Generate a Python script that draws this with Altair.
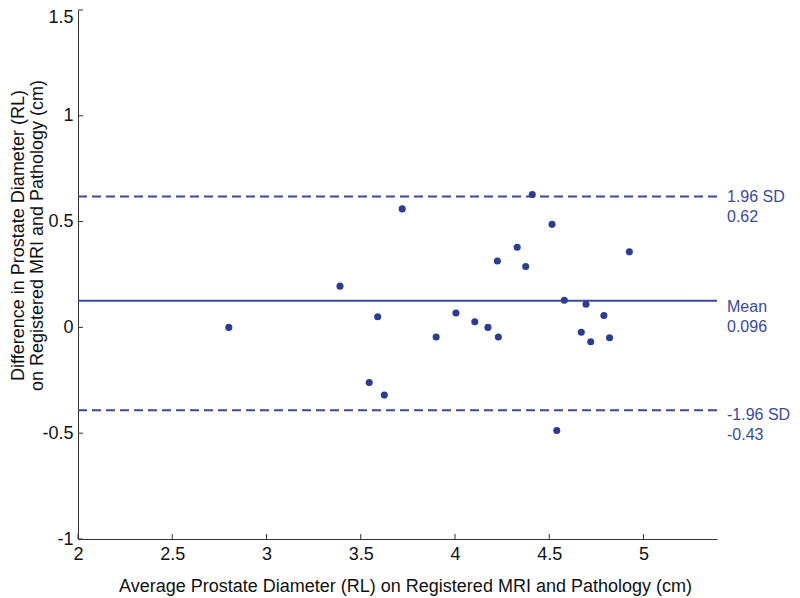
import altair as alt
import pandas as pd

# Bland-Altman data
avg = [2.80, 3.39, 3.545, 3.59, 3.625, 3.72, 3.90, 4.005, 4.105, 4.175, 4.225, 4.23,
       4.33, 4.375, 4.41, 4.515, 4.54, 4.58, 4.67, 4.695, 4.72, 4.79, 4.82, 4.925]
diff = [0.0, 0.195, -0.26, 0.05, -0.32, 0.56, -0.045, 0.068, 0.027, 0.0, 0.314, -0.045,
        0.379, 0.288, 0.628, 0.487, -0.487, 0.128, -0.023, 0.109, -0.068, 0.056, -0.049, 0.357]

limit_values = [0.619, -0.392]
mean_value = [0.126]
label_texts = ["1.96 SD\n0.62", "Mean\n0.096", "-1.96 SD\n-0.43"]
label_levels = [0.619, 0.126, -0.392]
label_dy = [1, 6, 5]

x_ticks = [2, 2.5, 3, 3.5, 4, 4.5, 5]
y_ticks = [-1, -0.5, 0, 0.5, 1, 1.5]

W, H = 639, 529
FONT = "Liberation Sans"
PT = "#2b3d8f"
LN = "#3b4a9a"
AX = "#333333"

xscale = alt.Scale(domain=[2, 5.39], nice=False, zero=False)
yscale = alt.Scale(domain=[-1, 1.5], nice=False, zero=False)

xaxis = alt.Axis(values=x_ticks, ticks=False, grid=False, domainColor=AX,
                 labelFont=FONT, labelFontSize=18, labelColor="#111",
                 labelPadding=6, labelFlush=False, labelExpr="'' + datum.value",
                 title="Average Prostate Diameter (RL) on Registered MRI and Pathology (cm)",
                 titleFont=FONT, titleFontSize=18, titleFontWeight="normal",
                 titleColor="#111", titleX=327, titleY=52, titleAlign="center",
                 titleBaseline="alphabetic", titleAnchor="middle")
yaxis = alt.Axis(values=y_ticks, ticks=False, grid=False, domainColor=AX,
                 labelFont=FONT, labelFontSize=18, labelColor="#111",
                 labelPadding=5, labelFlush=False, labelExpr="'' + datum.value",
                 labelOffset={"condition": {"test": "datum.value == 1.5", "value": 7}, "value": 0},
                 title=["Difference in Prostate Diameter (RL)",
                        "on Registered MRI and Pathology (cm)"],
                 titleFont=FONT, titleFontSize=18, titleFontWeight="normal",
                 titleColor="#111", titleX=-55, titleY=225, titleAngle=-90,
                 titleAlign="center", titleBaseline="alphabetic",
                 titleLineHeight=19)

pts = pd.DataFrame({"avg": avg, "diff": diff})

points = alt.Chart(pts).mark_circle(size=50, color=PT, opacity=1).encode(
    x=alt.X("avg:Q", scale=xscale, axis=xaxis),
    y=alt.Y("diff:Q", scale=yscale, axis=yaxis),
)

dashed = alt.Chart(pd.DataFrame({"v": limit_values})).mark_rule(
    color=LN, strokeWidth=2, strokeDash=[9, 5]
).encode(y=alt.Y("v:Q", scale=yscale, axis=yaxis))

mean_line = alt.Chart(pd.DataFrame({"v": mean_value})).mark_rule(
    color=LN, strokeWidth=1.8
).encode(y=alt.Y("v:Q", scale=yscale, axis=yaxis))

xt = alt.Chart(pd.DataFrame({"t": x_ticks})).mark_rule(color=AX, strokeWidth=1).encode(
    x=alt.X("t:Q", scale=xscale, axis=xaxis), y=alt.value(H), y2=alt.value(H - 5))
yt = alt.Chart(pd.DataFrame({"t": y_ticks})).mark_rule(color=AX, strokeWidth=1).encode(
    y=alt.Y("t:Q", scale=yscale, axis=yaxis), x=alt.value(0), x2=alt.value(5))

labels = []
for txt, lvl, dy in zip(label_texts, label_levels, label_dy):
    labels.append(
        alt.Chart(pd.DataFrame({"v": [lvl], "t": [txt]})).mark_text(
            align="left", baseline="middle", lineBreak="\n", font=FONT,
            fontSize=16, lineHeight=20, dy=dy, color=LN
        ).encode(y=alt.Y("v:Q", scale=yscale, axis=yaxis), x=alt.value(W + 10), text="t:N")
    )

chart = alt.layer(dashed, mean_line, xt, yt, points, *labels).properties(
    width=W, height=H,
    padding={"left": 70, "top": 2, "right": 75, "bottom": 59},
    autosize=alt.AutoSizeParams(type="none"),
    background="white",
).configure_view(stroke=None)

chart.save("out.html", embed_options={"renderer": "svg", "actions": False})
